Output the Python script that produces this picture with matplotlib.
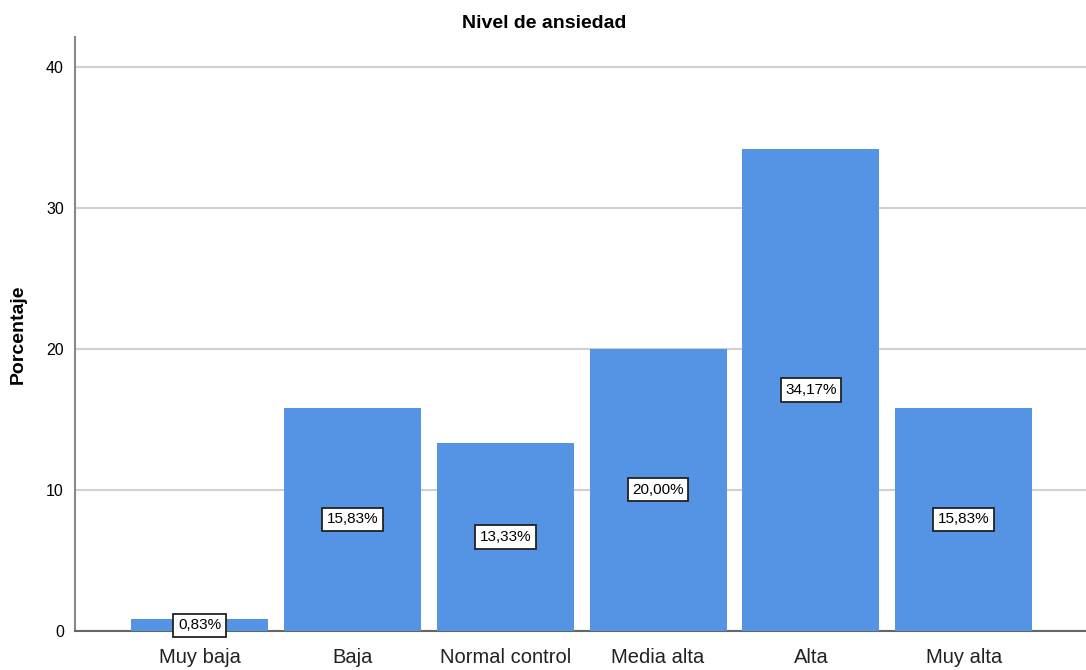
import matplotlib
matplotlib.use("Agg")
import matplotlib.pyplot as plt

categories = ["Muy baja", "Baja", "Normal control", "Media alta", "Alta", "Muy alta"]
values = [0.83, 15.83, 13.33, 20.00, 34.17, 15.83]
labels = ["0,83%", "15,83%", "13,33%", "20,00%", "34,17%", "15,83%"]
yticks = [0, 10, 20, 30, 40]

plt.rcParams['font.family'] = ['Liberation Sans', 'DejaVu Sans']

fig = plt.figure(figsize=(10.86, 6.70), dpi=100)
ax = fig.add_axes([75/1086, 1 - 631/670, 1 - 75/1086, (631 - 37)/670])

x = list(range(len(categories)))
ax.bar(x, values, width=0.897, color="#5593E4", zorder=3)
for xi, v, lab in zip(x, values, labels):
    ax.text(xi, v/2, lab, ha="center", va="center", fontsize=11, zorder=5,
            bbox=dict(boxstyle="square,pad=0.3", facecolor="white", edgecolor="#222222", linewidth=1.3))

ax.set_xlim(-0.815, 5.80)
ax.set_ylim(0, 42.1)
ax.set_yticks(yticks)
ax.set_yticklabels([str(t) for t in yticks], fontsize=11.5)
ax.set_xticks(x)
ax.set_xticklabels(categories, fontsize=14.5, color="#222222")
ax.tick_params(axis="both", length=0)
ax.tick_params(axis="x", pad=12)
ax.tick_params(axis="y", pad=8)
ax.yaxis.grid(True, color="#D0D0D0", linewidth=1.5, zorder=0)
ax.set_axisbelow(True)
for s in ["top", "right"]:
    ax.spines[s].set_visible(False)
ax.spines["left"].set_color("#888888")
ax.spines["bottom"].set_color("#666666")
ax.spines["left"].set_linewidth(1.5)
ax.spines["bottom"].set_linewidth(1.5)

ax.set_ylabel("Porcentaje", fontsize=14, fontweight="bold", labelpad=14)
fig.text(544/1086, 1 - 23/670, "Nivel de ansiedad", ha="center", va="center", fontsize=14, fontweight="bold")

fig.savefig("out.png", dpi=100)
